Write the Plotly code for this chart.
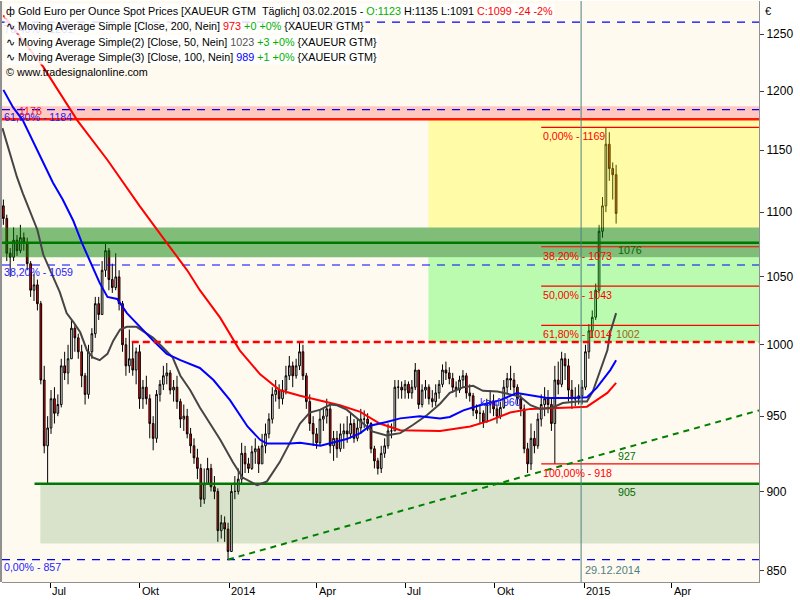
import numpy as np
import pandas as pd
import plotly.graph_objects as go

# ---------------- data (two bars per week) ----------------
bar_dates = list(pd.date_range("2013-05-14", periods=180, freq="84h").strftime("%Y-%m-%d %H:%M")) + ["2015-02-03"]
first_open = 1105
highs = [1110, 1098, 1072, 1088, 1082, 1090, 1084, 1080, 1062, 1052,
         1048, 1032, 985, 950, 968, 970, 965, 990, 995, 1000,
         1018, 1015, 1008, 1000, 980, 1000, 1012, 1035, 1035, 1062,
         1076, 1072, 1060, 1068, 1055, 1032, 1005, 1011, 1002, 998,
         1000, 975, 978, 965, 950, 968, 975, 985, 987, 982,
         975, 978, 962, 958, 955, 942, 935, 928, 918, 915,
         922, 918, 910, 902, 885, 884, 880, 905, 910, 915,
         932, 930, 922, 930, 935, 930, 938, 945, 952, 970,
         975, 972, 975, 985, 992, 988, 990, 1002, 1000, 980,
         965, 950, 942, 955, 955, 962, 958, 940, 940, 945,
         945, 950, 952, 948, 948, 955, 954, 952, 946, 930,
         922, 930, 935, 945, 945, 975, 975, 974, 975, 974,
         975, 987, 982, 972, 975, 972, 968, 972, 975, 986,
         988, 984, 980, 974, 978, 982, 980, 972, 966, 958,
         958, 954, 962, 968, 965, 958, 960, 975, 980, 985,
         980, 972, 965, 958, 932, 945, 940, 952, 965, 970,
         968, 962, 985, 988, 995, 994, 990, 975, 970, 972,
         975, 1000, 1015, 1025, 1045, 1090, 1112, 1169, 1165, 1140,
         1138]
lows = [1090, 1062, 1050, 1062, 1066, 1068, 1070, 1055, 1035, 1032,
        1025, 972, 925, 905, 938, 945, 950, 956, 975, 972,
        990, 995, 990, 970, 958, 962, 990, 1005, 1018, 1022,
        1050, 1040, 1038, 1040, 1025, 995, 978, 980, 978, 972,
        955, 955, 958, 935, 927, 932, 960, 968, 972, 965,
        960, 955, 942, 940, 935, 925, 918, 908, 890, 892,
        905, 900, 895, 868, 870, 868, 857, 862, 895, 898,
        905, 912, 912, 914, 918, 912, 918, 925, 935, 945,
        960, 955, 958, 965, 975, 970, 976, 982, 975, 955,
        940, 930, 928, 930, 940, 945, 925, 920, 922, 926,
        928, 932, 935, 932, 933, 938, 942, 940, 925, 915,
        911, 912, 922, 928, 935, 940, 962, 962, 962, 962,
        962, 968, 955, 956, 962, 958, 956, 957, 962, 970,
        975, 972, 966, 963, 966, 970, 962, 960, 950, 948,
        945, 942, 946, 952, 950, 945, 948, 955, 965, 968,
        965, 958, 950, 925, 912, 914, 925, 928, 943, 950,
        952, 940, 918, 965, 970, 975, 960, 955, 957, 958,
        958, 968, 990, 1005, 1018, 1038, 1080, 1100, 1125, 1110,
        1091]
closes = [1095, 1068, 1065, 1078, 1070, 1080, 1076, 1060, 1040, 1044,
          1030, 975, 930, 942, 962, 952, 958, 985, 980, 990,
          1012, 1005, 995, 978, 965, 995, 1008, 1030, 1022, 1055,
          1070, 1048, 1042, 1050, 1030, 1000, 985, 990, 982, 995,
          962, 970, 962, 945, 935, 965, 972, 978, 980, 968,
          970, 960, 948, 950, 938, 930, 922, 915, 895, 905,
          915, 903, 900, 875, 880, 876, 862, 900, 900, 908,
          925, 918, 915, 926, 928, 918, 930, 938, 948, 965,
          968, 962, 968, 978, 985, 978, 985, 995, 978, 960,
          945, 938, 932, 948, 950, 955, 930, 935, 928, 938,
          940, 938, 945, 935, 942, 948, 948, 945, 928, 920,
          915, 925, 930, 940, 940, 970, 970, 968, 972, 966,
          970, 982, 958, 968, 970, 962, 960, 966, 972, 982,
          980, 976, 970, 968, 975, 978, 966, 964, 954, 952,
          952, 946, 958, 960, 955, 950, 956, 970, 976, 975,
          970, 962, 955, 928, 918, 935, 930, 948, 958, 962,
          958, 945, 975, 972, 990, 985, 968, 962, 962, 964,
          970, 995, 1010, 1020, 1040, 1085, 1105, 1155, 1135, 1130,
          1099]
opens = [first_open] + closes[:-1]

ma200_dates = ["2013-05-14", "2013-06-24", "2013-07-09", "2013-07-29", "2013-08-29", "2013-09-19",
               "2013-10-01", "2013-10-29", "2013-11-19", "2013-12-02", "2013-12-23", "2014-01-12",
               "2014-02-02", "2014-02-22", "2014-03-15", "2014-04-12", "2014-04-25", "2014-05-16",
               "2014-06-05", "2014-06-26", "2014-08-06", "2014-09-06", "2014-09-26", "2014-10-17",
               "2014-11-07", "2014-12-18", "2015-01-04", "2015-01-14", "2015-01-25", "2015-02-03"]
ma200 = [1267, 1221, 1201, 1175, 1142, 1118, 1105, 1076, 1055, 1040, 1019.5, 996,
         979, 968, 964, 959.5, 957.5, 953, 945, 940.5, 940, 943, 947, 952.5,
         955, 956, 956.5, 961, 966, 973]

ma100_dates = ["2013-05-14", "2013-05-24", "2013-06-03", "2013-06-13", "2013-06-24", "2013-07-04",
               "2013-07-14", "2013-07-25", "2013-08-03", "2013-08-11", "2013-08-21", "2013-08-29",
               "2013-09-08", "2013-09-18", "2013-10-01", "2013-10-15", "2013-10-29", "2013-11-12",
               "2013-12-02", "2013-12-16", "2014-01-02", "2014-01-20", "2014-02-02", "2014-02-09",
               "2014-03-05", "2014-03-15", "2014-04-05", "2014-04-18", "2014-05-02", "2014-05-16",
               "2014-05-26", "2014-06-12", "2014-06-26", "2014-07-16", "2014-08-06", "2014-08-16",
               "2014-08-30", "2014-09-16", "2014-10-07", "2014-10-24", "2014-11-07", "2014-11-24",
               "2014-12-18", "2015-01-04", "2015-01-14", "2015-01-28", "2015-02-03"]
ma100 = [1201, 1186, 1175, 1158.5, 1140, 1123.5, 1110, 1093, 1075.5, 1061.5, 1045.5, 1035,
         1033.5, 1023, 1013, 1003, 993.5, 989, 983.5, 975, 961, 943, 934, 931.5,
         931.5, 932, 930, 932, 934.5, 938.5, 943.5, 946, 948.5, 950, 948.5, 949.5,
         954, 957.5, 961, 966, 964.5, 962.5, 962.5, 963, 969.5, 982, 989]

ma50_dates = ["2013-05-13", "2013-05-21", "2013-05-28", "2013-06-03", "2013-06-10", "2013-06-18",
              "2013-06-24", "2013-07-04", "2013-07-11", "2013-07-18", "2013-07-25", "2013-08-01",
              "2013-08-08", "2013-08-14", "2013-08-21", "2013-08-29", "2013-09-04", "2013-09-11",
              "2013-09-18", "2013-09-28", "2013-10-05", "2013-10-15", "2013-10-25", "2013-11-04",
              "2013-11-12", "2013-11-22", "2013-12-02", "2013-12-12", "2013-12-23", "2014-01-05",
              "2014-01-15", "2014-01-30", "2014-02-09", "2014-02-22", "2014-03-05", "2014-03-15",
              "2014-03-25", "2014-04-05", "2014-04-15", "2014-04-22", "2014-05-02", "2014-05-16",
              "2014-05-29", "2014-06-12", "2014-06-26", "2014-07-09", "2014-07-24", "2014-08-06",
              "2014-08-16", "2014-08-30", "2014-09-09", "2014-09-19", "2014-10-04", "2014-10-17",
              "2014-10-27", "2014-11-07", "2014-11-17", "2014-11-30", "2014-12-10", "2014-12-25",
              "2015-01-04", "2015-01-10", "2015-01-17", "2015-01-25", "2015-01-28", "2015-02-03"]
ma50 = [1168.5, 1147.5, 1128, 1115, 1102, 1086, 1067, 1050.5, 1038.5, 1023, 1016.5, 1009,
        996, 991, 989, 993.5, 1003, 1011, 1013, 1013, 1009.5, 1005, 998, 991,
        978, 968, 956, 945, 934, 919, 909, 904, 906.5, 919, 932.5, 945,
        952.5, 954.5, 958, 957.5, 954.5, 947, 939.5, 937, 938.5, 944, 951, 958.5,
        966, 970, 971, 967.5, 967, 965, 963.5, 957.5, 955, 956, 959, 960,
        960, 967, 980, 996, 1009, 1023]

# horizontal levels and zones
fib_blue_levels = [("76,40%", 1261), ("61,80%", 1184), ("38,20%", 1059), ("0,00%", 857)]
fib_red_levels = [("0,00%", 1169), ("38,20%", 1073), ("50,00%", 1043), ("61,80%", 1014), ("100,00%", 918)]
fib_red_start = "2014-11-18"
resistance_1176 = 1176
support_1076 = 1076
support_905 = 905
line_1002 = 1002
line_1002_start = "2013-09-23"
line_905_start = "2013-06-15"
zone_pink = (1176, 1187)
zone_yellow = (1088, 1176)
zone_darkgreen = (1065, 1088)
zone_lightgreen = (1002, 1065)
zone_grey = (867, 905)
zone_right_start = "2014-07-25"
zone_grey_start = "2013-06-21"
trend_start = ("2013-12-31", 857)
trend_end_value = 954
trend_label_value = 927
marker_date = "2014-12-29"
label_date = "2015-02-03"
kauf_date, kauf_value = "2014-09-14", 960
tick_months = ["2013-07-01", "2013-10-01", "2014-01-01", "2014-04-01",
               "2014-07-01", "2014-10-01", "2015-01-01", "2015-04-01"]
tick_names = ["Jul", "Okt", "2014", "Apr", "Jul", "Okt", "2015", "Apr"]
y_ticks = [850, 900, 950, 1000, 1050, 1100, 1150, 1200, 1250]

X_LEFT = "2013-05-12 14:00"
X_RIGHT = "2015-06-29 22:00"
Y_MIN, Y_MAX = 843.3, 1280.2

FONT = "Liberation Sans, Arial, sans-serif"
FS = 10.6
L = np.log10

fig = go.Figure()

fig.add_trace(go.Candlestick(
    x=bar_dates, open=opens, high=highs, low=lows, close=closes,
    increasing=dict(line=dict(color="black", width=1), fillcolor="white"),
    decreasing=dict(line=dict(color="black", width=1), fillcolor="#ff0000"),
    whiskerwidth=0, showlegend=False, hoverinfo="skip"))

# translucent zones drawn over the candles
zones = [(X_LEFT, zone_pink, "rgba(255,0,0,0.2)"),
         (zone_right_start, zone_yellow, "rgba(255,255,0,0.3)"),
         (X_LEFT, zone_darkgreen, "rgba(0,128,0,0.5)"),
         (zone_right_start, zone_lightgreen, "rgba(0,255,0,0.27)"),
         (zone_grey_start, zone_grey, "rgba(0,100,0,0.15)")]
for x0, (lo, hi), col in zones:
    fig.add_trace(go.Scatter(x=[x0, X_RIGHT, X_RIGHT, x0, x0], y=[lo, lo, hi, hi, lo],
                             mode="lines", fill="toself", fillcolor=col,
                             line=dict(width=0), showlegend=False, hoverinfo="skip"))


def hline(x0, value, color, width, dash="solid"):
    fig.add_trace(go.Scatter(x=[x0, X_RIGHT], y=[value, value], mode="lines",
                             line=dict(color=color, width=width, dash=dash),
                             showlegend=False, hoverinfo="skip"))


for _, v in fib_blue_levels:
    hline(X_LEFT, v, "#0000ff", 1.2, "8px,7px")
hline(X_LEFT, resistance_1176, "#ff1a00", 2.5)
hline(X_LEFT, support_1076, "#007800", 2.5)
hline(line_905_start, support_905, "#007800", 2.5)
for _, v in fib_red_levels:
    hline(fib_red_start, v, "#ff0000", 1.2)

fig.add_trace(go.Scatter(x=[trend_start[0], X_RIGHT], y=[trend_start[1], trend_end_value], mode="lines",
                         line=dict(color="#008000", width=2, dash="6px,5px"),
                         showlegend=False, hoverinfo="skip"))

fig.add_trace(go.Scatter(x=ma200_dates, y=ma200, mode="lines", line=dict(color="#ff0000", width=2),
                         showlegend=False, hoverinfo="skip"))
fig.add_trace(go.Scatter(x=ma50_dates, y=ma50, mode="lines", line=dict(color="#454545", width=2),
                         showlegend=False, hoverinfo="skip"))
fig.add_trace(go.Scatter(x=ma100_dates, y=ma100, mode="lines", line=dict(color="#0000ff", width=2),
                         showlegend=False, hoverinfo="skip"))
hline(line_1002_start, line_1002, "#ff0000", 2.5, "7px,4px")

shapes = [
    dict(type="line", xref="x", yref="paper", x0=marker_date, x1=marker_date, y0=0, y1=1,
         line=dict(color="#4f8080", width=1), layer="above"),
    dict(type="line", xref="paper", yref="paper", x0=-0.0013, x1=-0.0013, y0=0, y1=1,
         line=dict(color="#909090", width=2), layer="above"),
]

ann = []


def text_at(x, value, text, color, xanchor="left", yshift=0, xshift=0, size=FS):
    ann.append(dict(x=x, y=L(value), xref="x", yref="y", text=text, showarrow=False,
                    xanchor=xanchor, yanchor="middle", xshift=xshift, yshift=yshift,
                    font=dict(family=FONT, size=size, color=color)))


for name, v in fib_blue_levels:
    text_at(X_LEFT, v, f"{name} - {v}", "#1e1eff", yshift=-7, xshift=0)
text_at(X_LEFT, resistance_1176, str(resistance_1176), "#ff2020", yshift=8, xshift=15)
for name, v in fib_red_levels:
    text_at(fib_red_start, v, f"{name} - {v}", "#ff0000", yshift=-9, xshift=0)
text_at(label_date, support_1076, str(support_1076), "#006a00", yshift=-7)
text_at(label_date, line_1002, str(line_1002), "#a0641e", yshift=8, xshift=-2)
text_at(label_date, support_905, str(support_905), "#006a00", yshift=-8)
text_at(label_date, trend_label_value, str(trend_label_value), "#007000", yshift=-6)
text_at(kauf_date, kauf_value, "kauf 960", "#2222ff")
ann.append(dict(x=marker_date, y=0, xref="x", yref="paper", text="29.12.2014", showarrow=False,
                xanchor="left", yanchor="bottom", xshift=2, yshift=4,
                font=dict(family=FONT, size=11, color="#4f8080")))

for d, name in zip(tick_months, tick_names):
    ann.append(dict(x=d, y=0, xref="x", yref="paper", text=name, showarrow=False,
                    xanchor="left", yanchor="top", xshift=0, yshift=-1,
                    font=dict(family=FONT, size=11, color="black")))
ann.append(dict(x=1, y=1, xref="paper", yref="paper", text="€", showarrow=False,
                xanchor="left", yanchor="top", xshift=4, yshift=-2,
                font=dict(family=FONT, size=11, color="black")))

G = "#00b000"
legend_lines = [
    ("ф Gold Euro per Ounce Spot Prices [XAUEUR GTM&nbsp; Täglich] 03.02.2015 - "
     f"<span style='color:{G}'>O:1123</span> H:1135 L:1091 "
     "<span style='color:#ff0000'>C:1099 -24 -2%</span>", True),
    (f"∿ Moving Average Simple [Close, 200, Nein] <span style='color:#ff0000'>{ma200[-1]}</span> "
     f"<span style='color:{G}'>+0 +0%</span> {{XAUEUR GTM}}", True),
    (f"∿ Moving Average Simple(2) [Close, 50, Nein] <span style='color:#555555'>{ma50[-1]}</span> "
     f"<span style='color:{G}'>+3 +0%</span> {{XAUEUR GTM}}", True),
    (f"∿ Moving Average Simple(3) [Close, 100, Nein] <span style='color:#0000ff'>{ma100[-1]}</span> "
     f"<span style='color:{G}'>+1 +0%</span> {{XAUEUR GTM}}", True),
    ("© www.tradesignalonline.com", False),
]
for i, (txt, bg) in enumerate(legend_lines):
    ann.append(dict(x=0, y=1, xref="paper", yref="paper", text=txt, showarrow=False,
                    xanchor="left", yanchor="middle", xshift=2, yshift=-(10 + 15.3 * i),
                    bgcolor="rgba(255,255,255,0.85)" if bg else None, borderpad=1,
                    font=dict(family=FONT, size=10.8, color="black")))

fig.update_layout(
    width=800, height=600,
    margin=dict(l=2, r=41, t=1, b=18),
    paper_bgcolor="white", plot_bgcolor="#fffaf0",
    shapes=shapes, annotations=ann, showlegend=False,
    xaxis=dict(type="date", range=[X_LEFT, X_RIGHT], rangeslider=dict(visible=False),
               showgrid=False, zeroline=False, showline=True, linecolor="#909090", linewidth=1,
               tickvals=tick_months, showticklabels=False, ticks="outside", ticklen=5,
               tickcolor="black", tickwidth=1),
    yaxis=dict(type="log", side="right", range=[L(Y_MIN), L(Y_MAX)], showgrid=False, zeroline=False,
               showline=True, linecolor="#909090", linewidth=1,
               tickvals=y_ticks, ticktext=[str(v) for v in y_ticks], ticks="outside", ticklen=4,
               tickcolor="#404040", tickfont=dict(family=FONT, size=12, color="black")),
)

fig.write_html("out.html", config={"displayModeBar": False},
               post_script="document.body.style.margin='0px';document.body.style.padding='0px';")
